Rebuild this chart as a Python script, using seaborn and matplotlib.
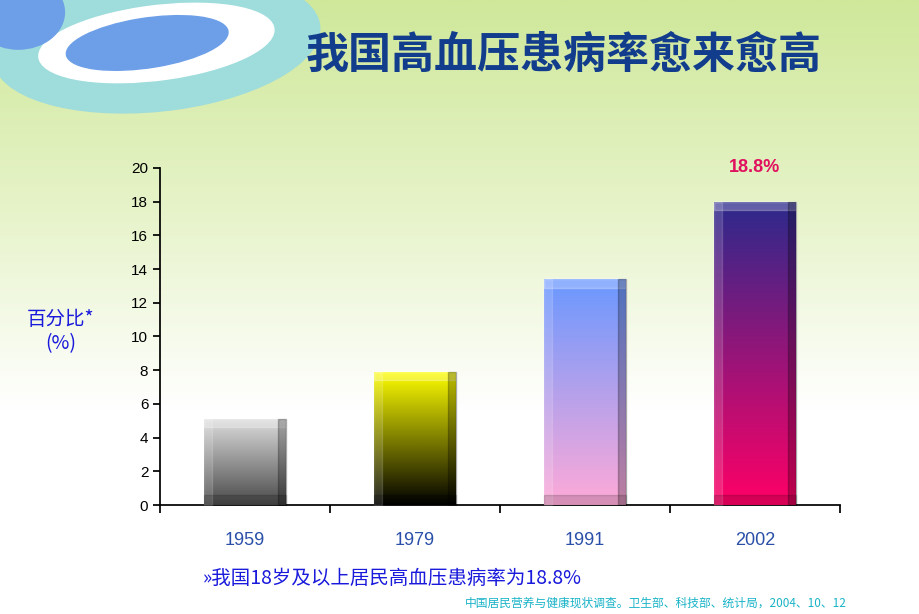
import numpy as np
import pandas as pd
import matplotlib.pyplot as plt
import seaborn as sns
from matplotlib.patches import Ellipse
from matplotlib.colors import LinearSegmentedColormap

years = ["1959", "1979", "1991", "2002"]
rates = [5.1, 7.9, 13.4, 18.0]
top_colors = ["#dcdcdc", "#ffff00", "#6a98ff", "#2b2a8c"]
bottom_colors = ["#4a4a4a", "#000000", "#ffaad8", "#ff0066"]

sns.set_theme(style="white")
plt.rcParams['font.family'] = ['Noto Sans CJK SC', 'DejaVu Sans']
latin = ['Liberation Sans', 'Noto Sans CJK SC']

fig = plt.figure(figsize=(9.2, 6.14), dpi=100)

# background gradient (pale green at top fading to white)
bg = fig.add_axes([0, 0, 1, 1], zorder=0)
grad = np.linspace(0, 1, 256).reshape(-1, 1)
bgcmap = LinearSegmentedColormap.from_list("bg", ["#ffffff", "#ffffff", "#e6f3c8", "#cfe89a"])
bg.imshow(grad, aspect="auto", cmap=bgcmap, extent=[0, 1, 0, 1], origin="lower")
bg.add_patch(Ellipse((0.17, 0.93), 0.36, 0.22, angle=12, color="#9fdcdc", zorder=2))
bg.add_patch(Ellipse((0.17, 0.93), 0.26, 0.12, angle=12, color="#ffffff", zorder=3))
bg.add_patch(Ellipse((0.16, 0.93), 0.18, 0.08, angle=14, color="#6d9fe8", zorder=4))
bg.add_patch(Ellipse((0.02, 0.98), 0.1, 0.12, color="#6d9fe8", zorder=4))
bg.set_xlim(0, 1); bg.set_ylim(0, 1); bg.axis("off")

ax = fig.add_axes([0.174, 0.1775, 0.739, 0.549], zorder=1)
ax.patch.set_alpha(0)
df = pd.DataFrame({"year": years, "rate": rates})
sns.barplot(data=df, x="year", y="rate", width=0.48, color="#888888", ax=ax)

for p, c1, c2 in zip(ax.patches, top_colors, bottom_colors):
    x0, y0, w, h = p.get_x(), p.get_y(), p.get_width(), p.get_height()
    cmap = LinearSegmentedColormap.from_list("b", [c2, c1])
    im = ax.imshow(np.linspace(0, 1, 256).reshape(-1, 1), aspect="auto", cmap=cmap,
                   extent=[x0, x0 + w, y0, y0 + h], origin="lower", zorder=3)
    im.set_clip_path(p)
    # bevel edges
    ax.fill_between([x0, x0 + w], y0 + h - 0.5, y0 + h, color="white", alpha=0.25, zorder=4)
    ax.fill_between([x0 + w * 0.9, x0 + w], y0, y0 + h, color="black", alpha=0.25, zorder=4)
    ax.fill_between([x0, x0 + w * 0.1], y0, y0 + h, color="white", alpha=0.15, zorder=4)
    ax.fill_between([x0, x0 + w], y0, y0 + 0.6, color="black", alpha=0.15, zorder=4)

ax.set_xlim(-0.5, 3.5)
ax.set_ylim(0, 20)
ax.set_yticks(range(0, 21, 2))
ax.set_xticks([-0.5, 0.5, 1.5, 2.5, 3.5])
ax.set_xticklabels([])
ax.tick_params(axis="x", direction="out", length=6, color="black", bottom=True)
ax.tick_params(axis="y", direction="out", length=5, color="black", left=True, labelsize=11, labelcolor="black")
for lab in ax.get_yticklabels():
    lab.set_family(latin)
for i, y in enumerate(years):
    ax.text(i, -2.1, y, ha="center", va="center", color="#2a4fa8", fontsize=13, family=latin)
ax.set_xlabel(""); ax.set_ylabel("")
for s in ["top", "right"]:
    ax.spines[s].set_visible(False)
for s in ["left", "bottom"]:
    ax.spines[s].set_color("black")
ax.text(3, 19.5, "18.8%", ha="center", va="bottom", color="#e0115f", fontsize=13,
        fontweight="bold", family=latin)

fig.text(0.613, 0.91, "我国高血压患病率愈来愈高", ha="center", va="center", fontsize=31,
         fontweight="bold", color="#123c8c")
fig.text(0.066, 0.46, "百分比*\n(%)", ha="center", va="center", fontsize=14,
         color="#1a1adc", linespacing=1.2)
fig.text(0.22, 0.058, "»我国18岁及以上居民高血压患病率为18.8%", ha="left", va="center",
         fontsize=14, color="#1a1adc")
fig.text(0.92, 0.018, "中国居民营养与健康现状调查。卫生部、科技部、统计局，2004、10、12",
         ha="right", va="center", fontsize=8.5, color="#19b3c8")

fig.savefig("out.png", dpi=100)
